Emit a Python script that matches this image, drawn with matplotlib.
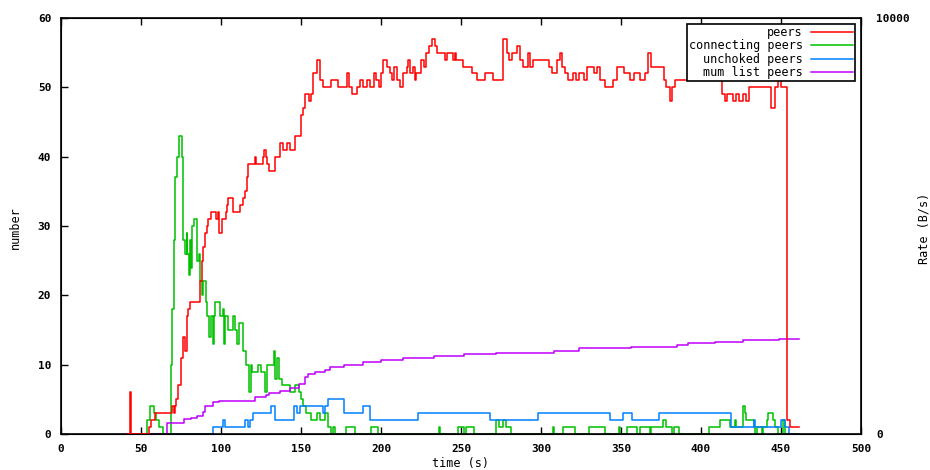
import matplotlib
matplotlib.use("Agg")
import matplotlib.pyplot as plt

# ---------------------------- data
# step series as (time s, value); value holds until the next time
peers = [(41, 0), (43, 6), (44, 0), (55, 1), (56, 2), (58.5, 3), (69.5, 4), (70.5, 3), (71, 4),
         (72, 5), (73, 7), (75, 11), (76, 12), (76.5, 14), (77.5, 12), (78.5, 17), (79.5, 18),
         (80.5, 19), (87, 22), (88, 25), (89, 27), (90, 29), (91.5, 30), (92, 31), (93.5, 32),
         (97, 31), (98, 32), (99, 29), (100.5, 31), (103, 32), (104, 33), (104.6, 34), (107.7, 32),
         (112, 33), (114, 34), (115, 35), (116, 37), (117, 39), (121, 40), (122, 39), (126, 40),
         (127, 41), (128, 40), (129, 39), (130, 38), (134, 40), (137, 42), (139, 41), (141, 42),
         (143, 41), (146, 43), (150, 46), (151, 47), (152.5, 49), (155, 48), (156, 49), (157.5, 52),
         (160, 54), (162, 51), (164, 50), (169, 51), (173, 50), (178.5, 52), (180, 50), (181.6, 49),
         (184.8, 50), (187, 51), (189, 50), (191, 51), (193, 50), (195.5, 52), (197, 51), (198.5, 50),
         (200, 52), (201.4, 54), (203.5, 53), (205.6, 52), (207, 51), (208, 53), (210, 51), (212, 50),
         (214, 52), (216, 53), (217, 54), (218, 52), (220, 53), (221, 51), (222, 52), (225, 54),
         (227, 53), (228, 55), (230, 56), (232, 57), (234, 56), (235, 55), (240, 54), (241, 55),
         (245, 54), (246, 55), (247, 54), (251, 53), (257, 52), (260, 51), (265, 52), (270, 51),
         (276, 57), (278.5, 55), (280, 54), (282, 55), (285, 56), (287, 54), (289, 53), (292, 55),
         (293, 53), (295, 54), (305, 53), (307, 52), (310, 54), (312, 55), (313, 53), (315, 52),
         (317, 51), (320, 52), (322, 51), (324, 52), (327, 51), (329, 53), (333, 52), (335, 53),
         (337, 51), (340, 50), (345, 51), (347.5, 53), (352, 52), (355.6, 51), (358, 52), (362, 51),
         (365, 52), (367, 55), (369, 53), (377, 51), (378, 50), (380.5, 48), (382, 50), (384, 51),
         (396, 52), (398, 53), (401, 52), (405, 51), (413, 49), (415, 48), (416, 49), (420, 48),
         (422, 49), (424, 48), (426, 49), (428, 48), (430, 50), (444, 47), (446, 50), (448, 51),
         (450, 50), (454, 2), (455.5, 1), (461, 1)]

connecting = [(41, 0), (54, 2), (55.5, 4), (58, 3), (59.5, 2), (61, 1), (63.5, 0), (68.7, 10),
              (69.5, 18), (70.5, 28), (71.5, 37), (72.5, 40), (73.5, 43), (75.5, 40), (76.5, 28),
              (77.5, 26), (78.5, 29), (79, 26), (80, 23), (80.5, 28), (81, 24), (82, 30), (83, 31),
              (85, 25), (86, 26), (87, 22), (88, 20), (89, 22), (90.5, 19), (91.5, 17), (92.5, 14),
              (93.5, 17), (95, 13), (95.5, 17), (96.5, 19), (99.5, 17), (101, 18), (102, 13),
              (102.5, 17), (104.5, 15), (107.5, 17), (108.5, 15), (110, 13), (111, 16), (114, 12),
              (115.5, 10), (117.5, 6), (118.5, 10), (119.5, 9), (123, 10), (125, 9), (127.5, 6),
              (128.5, 10), (133, 12), (134, 8), (135, 11), (136, 8), (138, 7), (143, 6), (146, 7),
              (149, 6), (150, 5), (151, 4), (153, 3), (156.5, 2), (160, 3), (162, 2), (165, 3),
              (167, 1), (169, 0), (170, 1), (171, 0), (178, 1), (184, 0), (194, 1), (198, 0),
              (236, 1), (236.7, 0), (248, 1), (252, 0), (253, 1), (258, 0), (272, 2), (274, 1),
              (276, 2), (278, 1), (281, 0), (307.5, 1), (308.2, 0), (314, 1), (321, 0), (330, 1),
              (340, 0), (349, 1), (349.5, 0), (353.6, 1), (360, 0), (362, 1), (368, 0), (369, 1),
              (376, 2), (378, 1), (382, 0), (383, 1), (386, 0), (405, 1), (412, 2), (418, 1),
              (421, 2), (422, 1), (426, 3), (426.5, 4), (427.5, 3), (428, 2), (433, 1), (434, 0),
              (435, 1), (438, 0), (439, 1), (441, 2), (442, 3), (445, 2), (446, 1), (448, 0),
              (451.5, 2), (452.5, 0), (461, 0)]

unchoked = [(41, 0), (94.8, 1), (101.5, 2), (102.5, 1), (115, 2), (117, 1), (118, 2), (120, 3),
            (131, 4), (133.5, 2), (145.5, 4), (147.5, 3), (149.5, 4), (164, 3), (165, 4), (167, 5),
            (177, 3), (189, 4), (193, 2), (223, 3), (268, 2), (298, 3), (343, 2), (351, 3), (357, 2),
            (374, 3), (419, 1), (433, 2), (434, 1), (450, 2), (452.5, 1), (455, 0), (461, 0)]

mum_list = [(41, 0), (66.5, 1.6), (77, 2.1), (81, 2.3), (85, 2.6), (88.5, 3.2), (90, 4.0),
            (95, 4.6), (99, 4.8), (121, 5.4), (128, 5.6), (130, 5.9), (137, 6.2), (143, 6.6),
            (149, 7.2), (152.5, 8.2), (154.5, 8.7), (158.5, 9.0), (165, 9.3), (168, 9.7),
            (177, 10.0), (189, 10.4), (200, 10.7), (214, 11.0), (233, 11.2), (252, 11.5),
            (272, 11.7), (308, 12.0), (324, 12.4), (356, 12.6), (385, 12.8), (392, 13.1),
            (409, 13.3), (426, 13.6), (449, 13.7), (461, 13.7)]

x_ticks = list(range(0, 501, 50))
y_ticks = list(range(0, 61, 10))

# ---------------------------- plot
font = "DejaVu Sans Mono"
fig = plt.figure(figsize=(9.3, 4.7), dpi=100)
ax = fig.add_axes([61 / 930, 1 - 434 / 470, 800 / 930, 416 / 470])

lw = 1.1
series = [(peers, "#ff0000", "peers", 3),
          (connecting, "#00c000", "connecting peers", 2),
          (unchoked, "#0080ff", "unchoked peers", 2),
          (mum_list, "#c000ff", "mum list peers", 2)]
for data, col, lab, z in series:
    t, v = zip(*data)
    ax.step(t, v, where="post", color=col, lw=lw, label=lab, zorder=z)

ax.set_xlim(0, 500)
ax.set_ylim(0, 60)
ax.set_xticks(x_ticks)
ax.set_yticks(y_ticks)
ax.tick_params(direction="in", length=5, width=1, top=True, right=True, labelsize=8, pad=7)
for lab in ax.get_xticklabels() + ax.get_yticklabels():
    lab.set_family(font)
    lab.set_fontweight("bold")
for s in ax.spines.values():
    s.set_linewidth(1.2)

ax2 = ax.twinx()
ax2.set_ylim(0, 10000)
ax2.set_yticks([0, 10000])
ax2.tick_params(length=0, labelsize=8, pad=11)
for lab in ax2.get_yticklabels():
    lab.set_family(font)
    lab.set_fontweight("bold")

fig.text(15 / 930, 1 - 228 / 470, "number", rotation=90, ha="center", va="center",
         family=font, fontsize=8.5)
fig.text(924 / 930, 1 - 228 / 470, "Rate (B/s)", rotation=90, ha="center", va="center",
         family=font, fontsize=8.5)
fig.text(460 / 930, 1 - 464 / 470, "time (s)", ha="center", va="center",
         family=font, fontsize=8.5)

leg = ax.legend(loc="upper right", markerfirst=False, prop={"family": font, "size": 8.5},
                frameon=True, fancybox=False, framealpha=1, edgecolor="black",
                borderpad=0.15, labelspacing=0.05, handlelength=3.6, handletextpad=0.7,
                borderaxespad=0.5)
leg.get_frame().set_linewidth(1.2)
leg.set_zorder(5)

fig.savefig("out.png", dpi=100)
